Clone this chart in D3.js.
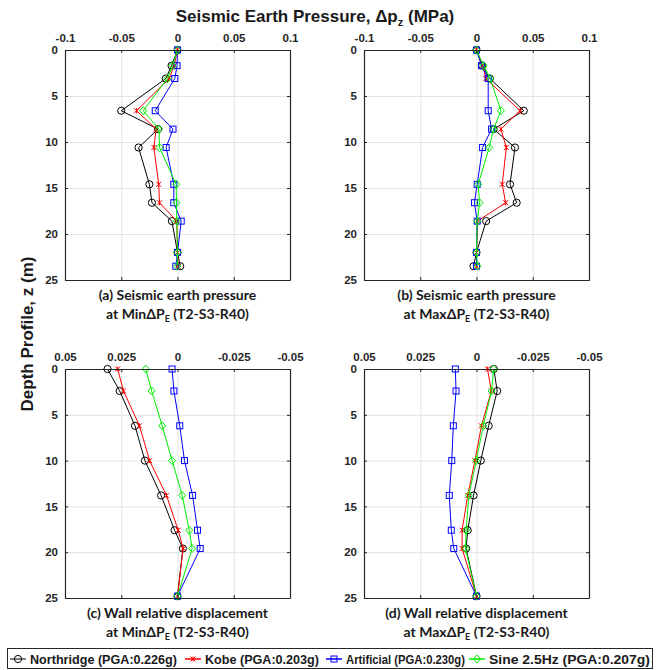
<!DOCTYPE html>
<html><head><meta charset="utf-8">
<script src="https://cdn.jsdelivr.net/npm/d3@7"></script>
<style>body{margin:0;background:#fff}svg{display:block}</style>
</head><body>
<script>
// ---------- data ----------
const seriesNames = ["Northridge (PGA:0.226g)", "Kobe (PGA:0.203g)", "Artificial (PGA:0.230g)", "Sine 2.5Hz (PGA:0.207g)"];
const seriesColors = ["#000000", "#ff0000", "#0000ff", "#00ee00"];
const seriesMarkers = ["circle", "star", "square", "diamond"];

const depthP = [0, 1.7, 3.1, 6.6, 8.6, 10.6, 14.6, 16.6, 18.6, 22.0, 23.5];
const depthD = [0, 2.4, 6.2, 10.0, 13.8, 17.6, 19.6, 24.8];

// (a) seismic earth pressure at Min dPE
const aNorth = [0, -0.0053, -0.0104, -0.0500, -0.0173, -0.0346, -0.0250, -0.0227, -0.0050, 0, 0.0024];
const aKobe  = [0, -0.0030, -0.0074, -0.0364, -0.0190, -0.0210, -0.0167, -0.0160, -0.0006, 0, 0.0006];
const aArt   = [0, -0.0004, -0.0024, -0.0198, -0.0040, -0.0101, -0.0033, -0.0033, 0.0033, 0, -0.0015];
const aSine  = [0, -0.0044, -0.0089, -0.0305, -0.0164, -0.0160, -0.0012, -0.0009, -0.0006, 0, -0.0003];
// (b) seismic earth pressure at Max dPE
const bNorth = [0, 0.0050, 0.0119, 0.0420, 0.0152, 0.0342, 0.0298, 0.0357, 0.0086, 0, -0.0027];
const bKobe  = [0, 0.0054, 0.0083, 0.0387, 0.0217, 0.0265, 0.0229, 0.0259, 0.0009, 0, 0];
const bArt   = [0, 0.0045, 0.0104, 0.0104, 0.0134, 0.0054, 0.0006, -0.0018, 0.0006, 0, 0];
const bSine  = [0, 0.0063, 0.0122, 0.0217, 0.0152, 0.0113, 0.0015, 0.0027, 0.0006, 0, 0.0009];
// (c) wall relative displacement at Min dPE
const cNorth = [0.0311, 0.0257, 0.0189, 0.0145, 0.0073, 0.0013, -0.0024, 0];
const cKobe  = [0.0266, 0.0240, 0.0169, 0.0124, 0.0049, -0.0003, -0.0025, 0];
const cArt   = [0.0024, 0.0016, -0.0010, -0.0031, -0.0067, -0.0089, -0.0101, 0];
const cSine  = [0.0141, 0.0115, 0.0068, 0.0024, -0.0021, -0.0052, -0.0065, 0];
// (d) wall relative displacement at Max dPE
const dNorth = [-0.0077, -0.0092, -0.0054, -0.0019, 0.0013, 0.0039, 0.0046, 0];
const dKobe  = [-0.0049, -0.0066, -0.0022, 0.0007, 0.0039, 0.0064, 0.0064, 0];
const dArt   = [0.0094, 0.0091, 0.0103, 0.0110, 0.0121, 0.0112, 0.0101, 0];
const dSine  = [-0.0076, -0.0067, -0.0030, 0.0001, 0.0034, 0.0046, 0.0049, 0];

const pressTicks = [-0.1, -0.05, 0, 0.05, 0.1];
const pressTickLabels = ["-0.1", "-0.05", "0", "0.05", "0.1"];
const dispTicks = [0.05, 0.025, 0, -0.025, -0.05];
const dispTickLabels = ["0.05", "0.025", "0", "-0.025", "-0.05"];
const depthTicks = [0, 5, 10, 15, 20, 25];

const titleLine1 = ["(a) Seismic earth pressure", "(b) Seismic earth pressure", "(c) Wall relative displacement", "(d) Wall relative displacement"];
const titleLine2Pre = ["at Min\u0394P", "at Max\u0394P", "at Min\u0394P", "at Max\u0394P"];

// ---------- drawing ----------
const W = 660, H = 670;
const svg = d3.select("body").append("svg").attr("width", W).attr("height", H)
  .style("font-family", "'Liberation Sans', Arial, sans-serif");

const panels = [
  {box: [65, 290, 50, 280], domain: [-0.1, 0.1], ticks: pressTicks, labels: pressTickLabels, depth: depthP, data: [aNorth, aKobe, aArt, aSine]},
  {box: [364, 589, 50, 280], domain: [-0.1, 0.1], ticks: pressTicks, labels: pressTickLabels, depth: depthP, data: [bNorth, bKobe, bArt, bSine]},
  {box: [65, 290, 369, 598], domain: [0.05, -0.05], ticks: dispTicks, labels: dispTickLabels, depth: depthD, data: [cNorth, cKobe, cArt, cSine]},
  {box: [364, 589, 369, 598], domain: [0.05, -0.05], ticks: dispTicks, labels: dispTickLabels, depth: depthD, data: [dNorth, dKobe, dArt, dSine]}
];

function drawMarker(g, type, color, x, y) {
  if (type === "circle") {
    g.append("circle").attr("cx", x).attr("cy", y).attr("r", 3.6).attr("fill", "none").attr("stroke", color).attr("stroke-width", 1);
  } else if (type === "square") {
    g.append("rect").attr("x", x - 3).attr("y", y - 3).attr("width", 6).attr("height", 6).attr("fill", "none").attr("stroke", color).attr("stroke-width", 1);
  } else if (type === "diamond") {
    g.append("path").attr("d", `M${x},${y-4}L${x+3.5},${y}L${x},${y+4}L${x-3.5},${y}Z`).attr("fill", "none").attr("stroke", color).attr("stroke-width", 1);
  } else if (type === "star") {
    const s = 2.5;
    g.append("path").attr("d", `M${x-s},${y-s}L${x+s},${y+s}M${x-s},${y+s}L${x+s},${y-s}M${x},${y-s}L${x},${y+s}`).attr("stroke", color).attr("stroke-width", 1);
  }
}

panels.forEach((p, pi) => {
  const [x0, x1, y0, y1] = p.box;
  const x = d3.scaleLinear().domain(p.domain).range([x0, x1]);
  const y = d3.scaleLinear().domain([0, 25]).range([y0, y1]);
  const g = svg.append("g");

  // grid
  const gx = g.append("g").attr("transform", `translate(0,${y1})`)
    .call(d3.axisBottom(x).tickValues(p.ticks).tickSize(-(y1 - y0)).tickFormat(""));
  gx.select(".domain").remove();
  gx.selectAll("line").attr("stroke", "#e3e3e3").attr("stroke-width", 1);
  const gy = g.append("g").attr("transform", `translate(${x0},0)`)
    .call(d3.axisLeft(y).tickValues(depthTicks).tickSize(-(x1 - x0)).tickFormat(""));
  gy.select(".domain").remove();
  gy.selectAll("line").attr("stroke", "#e3e3e3").attr("stroke-width", 1);

  // series
  p.data.forEach((vals, si) => {
    const pts = vals.map((v, i) => [x(v), y(p.depth[i])]);
    g.append("path").attr("d", d3.line()(pts)).attr("fill", "none")
      .attr("stroke", seriesColors[si]).attr("stroke-width", 1);
    pts.forEach(pt => drawMarker(g, seriesMarkers[si], seriesColors[si], pt[0], pt[1]));
  });

  // box with inward ticks
  const axStyle = sel => {
    sel.select(".domain").attr("stroke", "#262626").attr("stroke-width", 1.2);
    sel.selectAll(".tick line").attr("stroke", "#262626");
    sel.selectAll("text").attr("fill", "#262626").style("font-size", "11.5px").style("font-weight", "bold");
  };
  const top = g.append("g").attr("transform", `translate(0,${y0})`)
    .call(d3.axisTop(x).tickValues(p.ticks).tickFormat((d, i) => p.labels[i]).tickSizeInner(-3).tickSizeOuter(0).tickPadding(8));
  axStyle(top);
  const bot = g.append("g").attr("transform", `translate(0,${y1})`)
    .call(d3.axisBottom(x).tickValues(p.ticks).tickFormat("").tickSizeInner(-3).tickSizeOuter(0));
  axStyle(bot);
  const left = g.append("g").attr("transform", `translate(${x0},0)`)
    .call(d3.axisLeft(y).tickValues(depthTicks).tickSizeInner(-3).tickSizeOuter(0).tickPadding(7));
  axStyle(left);
  const right = g.append("g").attr("transform", `translate(${x1},0)`)
    .call(d3.axisRight(y).tickValues(depthTicks).tickFormat("").tickSizeInner(-3).tickSizeOuter(0));
  axStyle(right);

  // panel titles
  const cx = (x0 + x1) / 2;
  const tg = g.append("g").style("font-family", "Lato, 'Open Sans', sans-serif").style("font-weight", "bold").style("font-size", "14px").attr("fill", "#1a1a1a");
  tg.append("text").attr("x", cx).attr("y", y1 + 20).attr("text-anchor", "middle").text(titleLine1[pi]);
  const t2 = tg.append("text").attr("x", cx).attr("y", y1 + 39).attr("text-anchor", "middle");
  t2.append("tspan").text(titleLine2Pre[pi]);
  t2.append("tspan").attr("dy", 3).style("font-size", "9px").text("E");
  t2.append("tspan").attr("dy", -3).text(" (T2-S3-R40)");
});

// main title
const mt = svg.append("text").attr("x", 315).attr("y", 22).attr("text-anchor", "middle")
  .style("font-weight", "bold").style("font-size", "17px").attr("fill", "#1a1a1a");
mt.append("tspan").text("Seismic Earth Pressure, \u0394p");
mt.append("tspan").attr("dy", 4).style("font-size", "11px").text("z");
mt.append("tspan").attr("dy", -4).text(" (MPa)");

// y label
svg.append("text").attr("transform", "translate(33,334) rotate(-90)").attr("text-anchor", "middle")
  .style("font-weight", "bold").style("font-size", "17px").attr("fill", "#1a1a1a")
  .text("Depth Profile, z (m)");

// legend
const lg = svg.append("g");
lg.append("rect").attr("x", 7.5).attr("y", 648.5).attr("width", 645).attr("height", 20)
  .attr("fill", "#fff").attr("stroke", "#262626").attr("stroke-width", 1);
const legendX = [10, 185, 326, 469];
const legendTextW = [147, 114, 119, 161];
seriesNames.forEach((n, i) => {
  const lx = legendX[i], ly = 659;
  lg.append("line").attr("x1", lx).attr("x2", lx + 16).attr("y1", ly).attr("y2", ly)
    .attr("stroke", seriesColors[i] === "#000000" ? "#555" : seriesColors[i]).attr("stroke-width", 1.5);
  drawMarker(lg, seriesMarkers[i], seriesColors[i], lx + 8, ly);
  lg.append("text").attr("x", lx + 20).attr("y", ly + 4.5)
    .style("font-weight", "bold").style("font-size", "12.5px").attr("fill", "#1a1a1a")
    .attr("textLength", legendTextW[i]).attr("lengthAdjust", "spacingAndGlyphs").text(n);
});
</script>
</body></html>
